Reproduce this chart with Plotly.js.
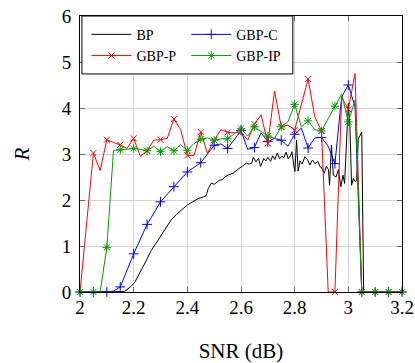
<!DOCTYPE html>
<html><head><meta charset="utf-8">
<script src="https://cdn.plot.ly/plotly-3.0.1.min.js"></script>
<style>html,body{margin:0;padding:0;background:#fff}#chart{width:415px;height:363px}</style>
</head><body><div id="chart"></div>
<script>
// BP (dense curve)
const bpX = [2.0,2.15,2.165,2.175,2.19,2.205,2.22,2.235,2.25,2.265,2.28,2.30,2.32,2.34,2.36,2.38,2.40,2.42,2.44,2.46,2.47,2.478,2.49,2.50,2.51,2.52,2.53,2.54,2.555,2.57,2.585,2.60,2.61,2.62,2.63,2.64,2.646,2.656,2.665,2.673,2.685,2.693,2.70,2.71,2.718,2.726,2.735,2.744,2.752,2.76,2.768,2.776,2.784,2.79,2.796,2.801,2.807,2.813,2.82,2.828,2.838,2.848,2.857,2.866,2.876,2.886,2.895,2.902,2.91,2.918,2.926,2.93,2.937,2.944,2.954,2.963,2.972,2.98,2.986,2.993,3.0,3.006,3.012,3.019,3.025,3.031,3.037,3.05,3.057,3.2];
const bpY = [0,0,0.01,0.05,0.12,0.22,0.37,0.55,0.72,0.90,1.03,1.22,1.40,1.57,1.69,1.79,1.89,1.96,2.03,2.07,2.09,2.25,2.37,2.34,2.38,2.43,2.44,2.50,2.55,2.58,2.65,2.71,2.75,2.80,2.78,2.80,2.93,2.83,2.91,2.73,2.90,2.85,2.93,2.84,2.96,2.88,3.02,2.90,2.95,2.92,3.04,2.90,2.96,3.05,2.78,2.62,3.30,2.63,2.85,2.78,2.94,2.88,2.76,2.87,2.79,2.84,2.72,2.69,2.58,2.73,2.66,2.32,3.19,2.54,2.50,2.66,2.29,2.54,2.36,3.23,4.10,3.59,2.32,2.47,2.40,2.43,3.32,3.48,0,0];

// GBP-C
const cX = [2.0,2.05,2.1,2.125,2.15,2.2,2.25,2.3,2.35,2.4,2.45,2.5,2.525,2.55,2.6,2.625,2.65,2.675,2.7,2.725,2.75,2.775,2.8,2.825,2.85,2.875,2.9,2.925,2.95,2.975,3.0,3.025,3.05,3.1,3.15,3.2];
const cY = [0,0,0,0.02,0.11,0.83,1.47,1.96,2.29,2.61,2.81,3.19,3.22,3.12,3.51,3.10,3.14,3.46,3.27,3.34,3.30,3.17,3.43,3.56,3.13,3.35,3.36,3.17,2.79,4.24,4.50,4.03,0,0,0,0];

// GBP-P
const pX = [2.0,2.05,2.075,2.1,2.125,2.15,2.175,2.2,2.225,2.25,2.275,2.3,2.325,2.35,2.375,2.4,2.425,2.45,2.475,2.5,2.525,2.55,2.575,2.6,2.625,2.65,2.675,2.7,2.725,2.75,2.775,2.8,2.85,2.875,2.9,2.925,2.95,2.975,3.0,3.025,3.05,3.1,3.15,3.2];
const pY = [0,3.02,2.64,3.31,3.25,3.20,3.12,3.34,2.95,3.07,3.30,3.31,3.34,3.76,3.53,2.97,2.97,3.48,3.01,3.30,3.53,3.47,3.46,3.48,3.30,3.65,3.85,3.23,4.37,3.59,3.63,3.52,4.63,3.81,3.50,0,0,4.24,3.97,4.75,0,0,0,0];

// GBP-IP
const ipX = [2.0,2.05,2.075,2.1,2.125,2.15,2.175,2.2,2.225,2.25,2.275,2.3,2.325,2.35,2.375,2.4,2.425,2.45,2.475,2.5,2.525,2.55,2.6,2.625,2.65,2.675,2.7,2.725,2.75,2.775,2.8,2.825,2.85,2.875,2.9,2.925,2.95,2.975,3.0,3.025,3.05,3.1,3.15,3.2];
const ipY = [0,0,0,0.97,3.08,3.09,3.11,3.12,3.10,3.07,3.17,3.05,3.16,3.07,3.20,3.08,3.23,3.32,3.35,3.30,3.33,3.33,3.55,3.39,3.59,3.48,3.39,3.34,3.59,3.70,4.08,3.59,3.72,3.53,3.50,3.77,4.04,4.30,3.70,4.17,0,0,0,0];

const xTicks = [2,2.2,2.4,2.6,2.8,3,3.2];
const yTicks = [0,1,2,3,4,5,6];

function markPts(xs, ys){
  const mx=[], my=[];
  xs.forEach((x,i)=>{ const k=Math.round(x/0.05); if(Math.abs(k*0.05-x)<1e-6){mx.push(x);my.push(ys[i]);} });
  return [mx,my];
}
const BLACK='#000000', BLUE='#0000ff', RED='#ff0000', GREEN='rgb(0,155,0)';
const cM = markPts(cX,cY), pM = markPts(pX,pY), ipM = markPts(ipX,ipY);
const mC = {symbol:'cross-thin-open', size:7, line:{color:BLUE,width:1}, color:BLUE};
const mP = {symbol:'x-thin-open', size:6, line:{color:RED,width:1}, color:RED};
const mIP = {symbol:'asterisk-open', size:7, line:{color:GREEN,width:1}, color:GREEN};

const traces = [
  {x:bpX,y:bpY,mode:'lines',line:{color:BLACK,width:1},showlegend:false,hoverinfo:'skip'},
  {x:cX,y:cY,mode:'lines',line:{color:BLUE,width:1},showlegend:false},
  {x:cM[0],y:cM[1],mode:'markers',marker:mC,showlegend:false,cliponaxis:false},
  {x:pX,y:pY,mode:'lines',line:{color:RED,width:1},showlegend:false},
  {x:pM[0],y:pM[1],mode:'markers',marker:mP,showlegend:false,cliponaxis:false},
  {x:ipX,y:ipY,mode:'lines',line:{color:GREEN,width:1},showlegend:false},
  {x:ipM[0],y:ipM[1],mode:'markers',marker:mIP,showlegend:false,cliponaxis:false},
  // legend entries
  {x:[null],y:[null],mode:'lines',name:'BP',line:{color:BLACK,width:1},legend:'legend'},
  {x:[null],y:[null],mode:'lines+markers',name:'GBP-P',line:{color:RED,width:1},marker:mP,legend:'legend'},
  {x:[null],y:[null],mode:'lines+markers',name:'GBP-C',line:{color:BLUE,width:1},marker:mC,legend:'legend2'},
  {x:[null],y:[null],mode:'lines+markers',name:'GBP-IP',line:{color:GREEN,width:1},marker:mIP,legend:'legend2'}
];

const FONT = 'Liberation Serif, Times New Roman, serif';
const legBase = {orientation:'v', xanchor:'left', yanchor:'top', bgcolor:'rgba(0,0,0,0)', borderwidth:0,
  font:{family:FONT,size:14,color:'#000'}, itemwidth:40, tracegroupgap:0};

const layout = {
  width:415, height:363,
  margin:{l:80,r:13,t:16,b:71},
  paper_bgcolor:'#fff', plot_bgcolor:'#fff',
  font:{family:FONT,color:'#000'},
  xaxis:{range:[2,3.2], tickvals:xTicks, ticktext:xTicks.map(String), showgrid:true, gridcolor:'#d4d4d4', gridwidth:1,
    zeroline:false, showline:true, linecolor:'#000', linewidth:1, mirror:'ticks', ticks:'inside', ticklen:5,
    tickcolor:'#666', tickfont:{family:FONT,size:19}, ticklabelstandoff:-2,
    title:{text:'SNR (dB)', font:{family:FONT,size:21}, standoff:28}},
  yaxis:{range:[0,6], tickvals:yTicks, showgrid:true, gridcolor:'#d4d4d4', gridwidth:1,
    zeroline:false, showline:true, linecolor:'#000', linewidth:1, mirror:'ticks', ticks:'inside', ticklen:5,
    tickcolor:'#666', tickfont:{family:FONT,size:19}, ticklabelstandoff:4,
    title:{text:'<i>R</i>', font:{family:FONT,size:21}, standoff:26}},
  legend:Object.assign({}, legBase, {x:0.02, y:0.99}),
  legend2:Object.assign({}, legBase, {x:0.33, y:0.99}),
  shapes:[{type:'rect', xref:'paper', yref:'paper', x0:0.006, x1:0.661, y0:0.79, y1:1,
    line:{color:'#000',width:1}, fillcolor:'#fff', layer:'above'}],
  showlegend:true
};
Plotly.newPlot('chart', traces, layout, {displayModeBar:false, staticPlot:true});
</script>
</body></html>
